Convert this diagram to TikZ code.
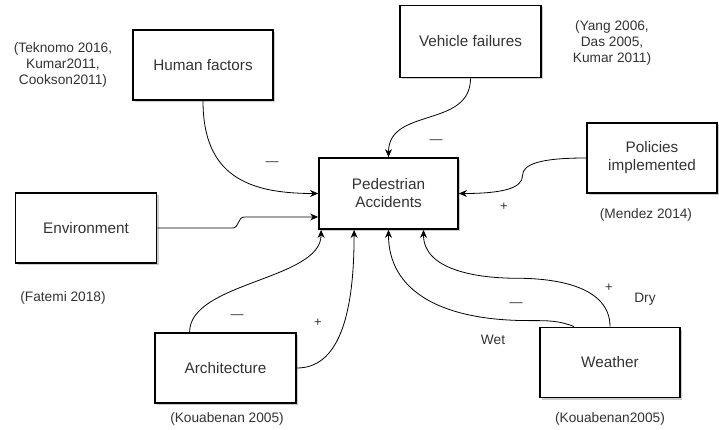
\documentclass[tikz,border=0pt]{standalone}
\usepackage{fontspec}
\setmainfont{Liberation Sans}
\usetikzlibrary{calc,arrows.meta,shadows}
\definecolor{txt}{HTML}{333333}
\begin{document}
\begin{tikzpicture}[x=1pt,y=-1pt,
  box/.style={draw=black, line width=1.8pt, fill=white, inner sep=0pt,
    align=center, text=txt, font=\fontsize{15.3}{18}\selectfont,
    drop shadow={shadow xshift=2pt, shadow yshift=-2pt, fill=black, opacity=0.2}},
  cite/.style={align=center, text=txt, font=\fontsize{13.7}{16.3}\selectfont, inner sep=0pt},
  sign/.style={text=txt, font=\fontsize{13}{15}\selectfont, inner sep=0pt},
  arr/.style={-{Stealth[length=8pt,width=7pt]}, line width=0.8pt, black}
]
\useasboundingbox (0,0) rectangle (719,430);

% boxes
\node[box, minimum width=140pt, minimum height=70pt] (hf) at (203,65) {Human factors};
\node[box, minimum width=141pt, minimum height=72pt] (vf) at (470.5,41.5) {Vehicle failures};
\node[box, minimum width=139pt, minimum height=71pt] (pa) at (388.5,193.5) {Pedestrian\\Accidents};
\node[box, minimum width=130pt, minimum height=70pt] (pol) at (652,158) {Policies\\implemented};
\node[box, minimum width=141pt, minimum height=70pt] (env) at (86,228) {Environment};
\node[box, minimum width=141pt, minimum height=70pt] (arch) at (225.5,368) {Architecture};
\node[box, minimum width=140pt, minimum height=70pt] (wea) at (610,362.5) {Weather};

% citations
\node[cite] (c1) at (63,65) {(Teknomo 2016,\\Kumar2011,\\Cookson2011)};
\node[cite] (c2) at (612,43) {(Yang 2006,\\Das 2005,\\Kumar 2011)};
\node[cite] (c3) at (646,215) {(Mendez 2014)};
\node[cite] (c4) at (63,298) {(Fatemi 2018)};
\node[cite] (c5) at (227,419) {(Kouabenan 2005)};
\node[cite] (c6) at (610,419) {(Kouabenan2005)};

% signs and labels
\node[sign] (s1) at (272,164) {—};
\node[sign] (s2) at (436,142) {—};
\node[sign] (s3) at (504,207) {+};
\node[sign] (s4) at (237,317) {—};
\node[sign] (s5) at (318,323) {+};
\node[sign] (s6) at (516,305) {—};
\node[sign] (s7) at (609,288) {+};
\node[cite] (wet) at (493,340) {Wet};
\node[cite] (dry) at (645,299) {Dry};

% connectors
\draw[arr] (hf.south) .. controls +(0,75) and +(-70,0) .. (pa.west);
\draw[arr] (env.east) -- ++(75,0) .. controls +(7,0) and +(-7,0) .. ++(12,-11) -- ($(pa.west)+(0,23.5)$);
\draw[arr] (vf.south) .. controls +(0,50) and +(0,-50) .. (pa.north);
\draw[arr] (pol.west) .. controls +(-45,0) and +(0,-12) .. ($(pa.east)!0.5!(pol.west)$)
  .. controls +(0,12) and +(45,0) .. (pa.east);
\draw[arr] ($(arch.north west)+(35.5,0)$) .. controls +(0,-50) and +(0,50) .. ($(pa.south west)+(3,0)$);
\draw[arr] (arch.east) .. controls +(40,0) and +(0,90) .. ($(pa.south west)+(36,0)$);
\draw[arr] ($(wea.north west)+(35,0)$) .. controls +(-15,-6) and +(20,0) .. ++(-45,-6)
  .. controls +(-90,0) and +(0,60) .. (pa.south);
\draw[arr] (wea.north) .. controls +(0,-40) and +(40,0) .. ($(wea.north)!0.5!($(pa.south)+(35,0)$)$)
  .. controls +(-40,0) and +(0,40) .. ($(pa.south)+(35,0)$);
\end{tikzpicture}
\end{document}
